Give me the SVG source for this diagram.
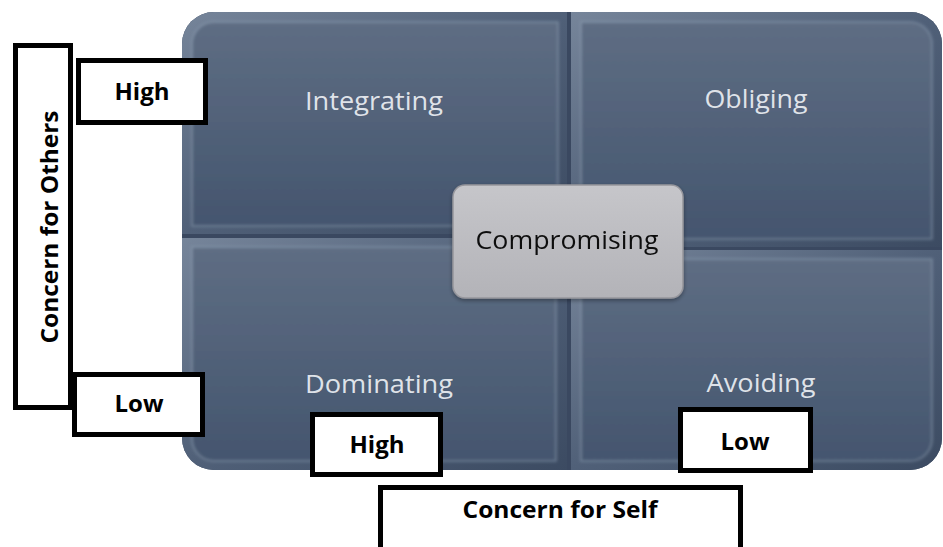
<svg xmlns="http://www.w3.org/2000/svg" width="943" height="547" viewBox="0 0 943 547">
  <defs>
    <linearGradient id="rim" x1="0" y1="0" x2="1" y2="1">
      <stop offset="0" stop-color="#76859a"/>
      <stop offset="0.5" stop-color="#506078"/>
      <stop offset="1" stop-color="#3c4b62"/>
    </linearGradient>
    <linearGradient id="face" x1="0" y1="0" x2="0" y2="1">
      <stop offset="0" stop-color="#5e6d83"/>
      <stop offset="1" stop-color="#44556e"/>
    </linearGradient>
    <linearGradient id="centre" x1="0" y1="0" x2="0" y2="1">
      <stop offset="0" stop-color="#c6c6ca"/>
      <stop offset="1" stop-color="#b3b3b8"/>
    </linearGradient>
    <filter id="soft" x="-5%" y="-5%" width="110%" height="110%">
      <feGaussianBlur stdDeviation="1.4"/>
    </filter>
    <filter id="drop" x="-10%" y="-10%" width="120%" height="130%">
      <feGaussianBlur in="SourceAlpha" stdDeviation="2"/>
      <feOffset dx="0" dy="2" result="b"/>
      <feComponentTransfer><feFuncA type="linear" slope="0.35"/></feComponentTransfer>
      <feMerge><feMergeNode/><feMergeNode in="SourceGraphic"/></feMerge>
    </filter>
  </defs>
  <style>
    .rim { fill: url(#rim); }
    .face { fill: url(#face); stroke: #a6b6cb; stroke-width: 1.6; stroke-opacity: 0.4; }
    .qlabel { font-family: "Open Sans", "Noto Sans", sans-serif; font-size: 26px; fill: #eef1f5; fill-opacity: 0.92; text-anchor: middle; }
    .box { fill: #ffffff; stroke: #000000; stroke-width: 5; }
    .blabel { font-family: "Open Sans", "Noto Sans", sans-serif; font-size: 24px; font-weight: bold; fill: #000000; text-anchor: middle; }
  </style>

  <!-- matrix backing, shows through the gaps between quadrants -->
  <rect x="182" y="12" width="760" height="458" rx="32" fill="#3a4860"/>

  <g id="integrating">
    <path class="rim" d="M182,44 A32,32 0 0 1 214,12 H567 V234 H182 Z"/>
    <path class="face" filter="url(#soft)" d="M192,44 A22,22 0 0 1 214,22 H558 V226 H192 Z"/>
    <text class="qlabel" x="374" y="110" textLength="138" lengthAdjust="spacingAndGlyphs">Integrating</text>
  </g>

  <g id="obliging">
    <path class="rim" d="M571,12 H910 A32,32 0 0 1 942,44 V247 H571 Z"/>
    <path class="face" filter="url(#soft)" d="M581,22 H910 A22,22 0 0 1 932,44 V239 H581 Z"/>
    <text class="qlabel" x="756" y="108" textLength="103" lengthAdjust="spacingAndGlyphs">Obliging</text>
  </g>

  <g id="dominating">
    <path class="rim" d="M182,238 H567 V470 H214 A32,32 0 0 1 182,438 Z"/>
    <path class="face" filter="url(#soft)" d="M192,247 H556 V461 H214 A22,22 0 0 1 192,439 Z"/>
    <text class="qlabel" x="379" y="393" textLength="148" lengthAdjust="spacingAndGlyphs">Dominating</text>
  </g>

  <g id="avoiding">
    <path class="rim" d="M571,250 H942 V438 A32,32 0 0 1 910,470 H571 Z"/>
    <path class="face" filter="url(#soft)" d="M581,259 H932 V438 A22,22 0 0 1 910,461 H581 Z"/>
    <text class="qlabel" x="761" y="392" textLength="109" lengthAdjust="spacingAndGlyphs">Avoiding</text>
  </g>

  <g id="compromising" filter="url(#drop)">
    <rect x="453" y="185" width="230" height="113" rx="12" fill="url(#centre)" stroke="#96969c" stroke-width="1.5"/>
    <text x="567" y="249" font-family="'Open Sans', 'Noto Sans', sans-serif" font-size="26" fill="#111111" text-anchor="middle" textLength="183" lengthAdjust="spacingAndGlyphs">Compromising</text>
  </g>

  <!-- axis: concern for others -->
  <g id="concern-others">
    <rect class="box" x="15.5" y="45.5" width="55" height="362"/>
    <text class="blabel" transform="translate(58,227) rotate(-90)" x="0" y="0" textLength="233" lengthAdjust="spacingAndGlyphs">Concern for Others</text>
  </g>
  <g id="others-high">
    <rect class="box" x="78.5" y="60.5" width="127" height="62"/>
    <text class="blabel" x="142" y="100">High</text>
  </g>
  <g id="others-low">
    <rect class="box" x="74.5" y="374.5" width="128" height="60"/>
    <text class="blabel" x="139" y="412">Low</text>
  </g>

  <!-- axis: concern for self -->
  <g id="self-high">
    <rect class="box" x="312.5" y="414.5" width="128" height="60"/>
    <text class="blabel" x="377" y="453">High</text>
  </g>
  <g id="self-low">
    <rect class="box" x="680.5" y="409.5" width="130" height="61"/>
    <text class="blabel" x="745" y="450">Low</text>
  </g>
  <g id="concern-self">
    <rect class="box" x="380.5" y="487.5" width="360" height="80"/>
    <text class="blabel" x="560" y="518" textLength="195" lengthAdjust="spacingAndGlyphs">Concern for Self</text>
  </g>

  <!-- no connectors in this figure -->
  <g id="connectors"/>
</svg>
